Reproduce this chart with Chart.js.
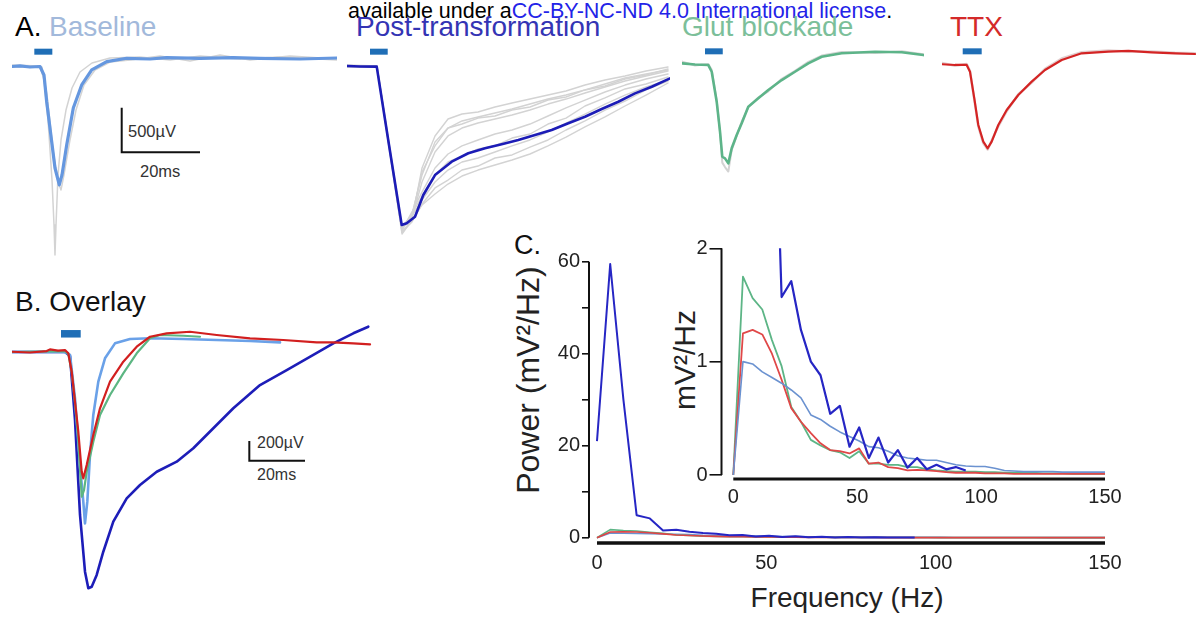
<!DOCTYPE html>
<html>
<head>
<meta charset="utf-8">
<script src="https://cdn.jsdelivr.net/npm/chart.js@4.4.1/dist/chart.umd.min.js"></script>
<style>
  body { margin: 0; width: 1196px; height: 617px; position: relative; overflow: hidden; background: #fff;
         font-family: "Liberation Sans", Arial, sans-serif; }
  canvas { position: absolute; }
  .lbl { position: absolute; white-space: nowrap; line-height: 1; }
  .rot { transform: translate(-50%, -50%) rotate(-90deg); }
</style>
</head>
<body>
<div class="lbl" style="left:348px;top:1px;font-size:21.5px;color:#000">available under a<span style="color:#2323e8">CC-BY-NC-ND 4.0 International license</span>.</div>

<div class="lbl" style="left:15px;top:13px;font-size:28px;color:#000">A.</div>
<div class="lbl" style="left:49px;top:13px;font-size:28px;color:#a2b9db">Baseline</div>
<div class="lbl" style="left:356px;top:13px;font-size:28px;color:#3434b4">Post-transformation</div>
<div class="lbl" style="left:682px;top:13px;font-size:28px;color:#7cbf9a">Glut blockade</div>
<div class="lbl" style="left:950px;top:13px;font-size:28px;color:#d42a2a">TTX</div>
<div class="lbl" style="left:128px;top:123px;font-size:16.5px;color:#333">500µV</div>
<div class="lbl" style="left:140px;top:163px;font-size:16.5px;color:#333">20ms</div>

<div class="lbl" style="left:15px;top:288px;font-size:28px;color:#111">B. Overlay</div>
<div class="lbl" style="left:257px;top:435px;font-size:16px;color:#333">200µV</div>
<div class="lbl" style="left:257px;top:467px;font-size:16px;color:#333">20ms</div>

<div class="lbl" style="left:514px;top:232px;font-size:27px;color:#111">C.</div>
<div class="lbl rot" style="left:528px;top:380px;font-size:32px;color:#222">Power (mV²/Hz)</div>
<div class="lbl rot" style="left:685px;top:360px;font-size:30px;color:#222">mV²/Hz</div>
<div class="lbl" style="left:847px;top:584px;font-size:28px;color:#222;transform:translateX(-50%)">Frequency (Hz)</div>

<script>
  // ---- A. single-trace recordings (ms, µV) ----
  var baseT = [0, 2.04, 4.60, 7.15, 8.17, 8.86, 10.14, 10.98, 12.08, 12.77, 13.97, 15.66, 17.80, 20.36, 24.19, 29.30, 35.25, 39.51, 48.02, 56.45, 63.35, 73.56, 83.01];
  var baseV = [0, 6, -6, 0, -95, -395, -843, -1138, -1328, -1216, -880, -465, -207, -39, 54, 92, 84, 99, 90, 99, 90, 84, 95];
  var baseGrayDeepT = [0, 7.15, 8.17, 9.20, 10.22, 10.73, 10.98, 11.24, 11.75, 12.52, 13.79, 15.33, 17.37, 20.43, 25.03, 32.69, 40.36, 48.02, 58.24, 68.45, 83.01];
  var baseGrayDeepV = [17, 6, -151, -600, -1272, -1777, -2113, -1777, -1216, -824, -488, -241, -62, 39, 95, 106, 73, 118, 84, 106, 73];
  var baseGrayLateT = [0, 7.66, 8.94, 10.47, 11.75, 12.52, 13.28, 14.81, 16.35, 18.39, 21.20, 25.03, 30.14, 37.80, 45.47, 53.13, 60.79, 71.01, 83.01];
  var baseGrayLateV = [-6, -6, -319, -936, -1295, -1384, -1216, -824, -488, -207, -39, 50, 73, 118, 62, 129, 73, 118, 84];

  var postT = [0.18, 3.32, 7.59, 10.73, 13.97, 15.25, 17.37, 19.49, 22.48, 26.74, 30.98, 35.25, 39.51, 43.75, 48.02, 52.28, 56.53, 60.79, 65.06, 69.30, 73.56, 77.83, 82.50];
  var postV = [3, -2, -4, -882, -1779, -1760, -1686, -1443, -1219, -1069, -975, -919, -874, -826, -770, -714, -639, -565, -479, -397, -303, -229, -135];
  var postGrayT = [0, 7.66, 14.05, 16.60, 19.16, 22.48, 25.80, 29.37, 33.46, 37.80, 42.15, 46.74, 51.34, 55.94, 60.79, 65.90, 71.01, 76.37, 81.99];
  var postGray1 = [15, 3, -1857, -1723, -1140, -781, -591, -535, -512, -456, -411, -367, -322, -277, -210, -154, -109, -53, -8];
  var postGray2 = [-8, -8, -1835, -1656, -1219, -849, -692, -613, -568, -524, -479, -423, -367, -322, -265, -198, -131, -86, -41];
  var postGray3 = [3, -8, -1812, -1700, -1297, -961, -781, -692, -636, -591, -546, -490, -423, -367, -299, -232, -165, -109, -53];
  var postGray4 = [3, 3, -1790, -1678, -1499, -1297, -1163, -1073, -1028, -961, -893, -826, -736, -636, -535, -423, -322, -232, -154];
  var postGray5 = [-8, -8, -1880, -1723, -1555, -1432, -1320, -1230, -1163, -1106, -1050, -983, -893, -793, -680, -568, -445, -322, -187];
  var postGray6 = [3, -8, -1835, -1633, -1410, -1140, -983, -893, -826, -759, -714, -647, -557, -467, -378, -288, -210, -142, -86];
  var postGray7 = [3, 3, -1824, -1678, -1185, -893, -692, -647, -580, -557, -490, -456, -378, -344, -265, -221, -142, -97, -30];
  var postGray8 = [-8, 3, -1857, -1745, -1544, -1364, -1275, -1163, -1118, -1028, -994, -905, -826, -714, -613, -490, -389, -265, -165];
  var postGray9 = [3, -8, -1812, -1656, -1454, -1219, -1073, -1006, -927, -893, -804, -759, -647, -580, -445, -355, -254, -198, -120];

  var glutT = [0.08, 3.32, 6.72, 7.59, 8.86, 9.71, 10.29, 10.98, 11.83, 12.69, 13.97, 15.25, 16.93, 19.49, 22.04, 25.47, 28.86, 32.26, 35.68, 40.79, 49.30, 56.12, 61.63];
  var glutV = [13, 0, -6, -81, -417, -753, -1034, -1052, -1108, -939, -790, -659, -473, -379, -286, -174, -81, 13, 87, 126, 143, 137, 106];
  var glutGrayV = [33, -10, 5, -60, -400, -760, -1100, -1150, -1200, -960, -800, -640, -480, -370, -300, -160, -70, 30, 100, 140, 130, 150, 115];

  var ttxT = [0, 3.32, 6.31, 7.15, 8.25, 9.27, 10.55, 11.67, 12.69, 14.38, 16.53, 19.49, 22.91, 26.31, 30.58, 35.68, 42.48, 47.59, 53.56, 59.51, 64.62];
  var ttxV = [6, -2, -2, -77, -376, -675, -862, -936, -862, -675, -507, -339, -189, -58, 54, 129, 147, 155, 140, 129, 121];
  var ttxGrayV = [20, -10, 8, -70, -390, -690, -880, -950, -850, -690, -520, -330, -200, -45, 70, 140, 160, 150, 150, 135, 130];

  // stimulus bars [start ms, end ms, level µV] and scale bar corners
  var stimBase = [5.7, 10.3, 166];
  var stimPost = [5.87, 10.40, 164];
  var stimGlut = [5.87, 10.41, 148];
  var stimTtx = [5.29, 10.14, 151];
  var scaleA = [[28.02, -462], [28.02, -962], [48.02, -962]];   // 500 µV / 20 ms

  // ---- B. overlay of averages ----
  var ovRedT = [0, 6.46, 12.46, 13.64, 16.52, 19.03, 20.22, 21.44, 22.62, 23.81, 25.03, 25.60, 26.82, 29.19, 31.60, 35.19, 39.96, 44.78, 49.55, 55.55, 63.91, 73.50, 85.46, 97.41, 109.41, 115.26, 122.55, 128.55];
  var ovRedV = [3, -5, 10, 27, 15, 20, -13, -200, -504, -809, -1215, -1282, -1147, -842, -571, -301, -98, 54, 155, 190, 206, 173, 139, 122, 98, 98, 88, 78];
  var ovGreenT = [0, 19.03, 20.22, 21.44, 22.62, 23.81, 25.03, 25.85, 26.82, 29.19, 31.60, 35.19, 39.96, 44.78, 49.55, 53.14, 61.51, 67.50];
  var ovGreenV = [0, 10, -20, -203, -518, -893, -1469, -1401, -1215, -910, -639, -436, -216, -13, 139, 173, 165, 155];
  var ovLightT = [0, 19.03, 20.83, 22.62, 24.42, 25.60, 26.21, 27.04, 28.01, 29.19, 30.99, 33.39, 36.98, 42.37, 49.55, 61.51, 73.50, 85.46, 96.23];
  var ovLightV = [0, 0, -30, -467, -1147, -1519, -1739, -1519, -1045, -639, -301, -64, 88, 132, 139, 132, 122, 112, 98];
  var ovDarkT = [0, 19.03, 20.83, 22.62, 24.42, 26.21, 27.40, 28.62, 30.41, 32.78, 36.37, 41.18, 45.96, 51.96, 59.14, 65.10, 72.28, 79.46, 89.05, 98.64, 108.19, 115.37, 122.55, 127.93];
  var ovDarkV = [0, 0, -41, -690, -1654, -2230, -2398, -2382, -2263, -2027, -1722, -1485, -1350, -1215, -1113, -977, -774, -571, -335, -183, -30, 88, 190, 257];
  var stimOverlay = [17.59, 24.67, 185];
  var scaleB = [[85.21, -903], [85.21, -1103], [105.21, -1103]];  // 200 µV / 20 ms

  // ---- C. power spectra (Hz, mV²/Hz) ----
  var freqHz = [0, 3.9, 7.8, 11.7, 15.6, 19.5, 23.4, 27.3, 31.3, 35.2, 39.1, 43.0, 46.9, 50.8, 54.7, 58.6, 62.5, 66.4, 70.3, 74.2,
                78.1, 82.0, 85.9, 89.8, 93.8, 97.7, 101.6, 105.5, 109.4, 113.3, 117.2, 121.1, 125.0, 128.9, 132.8, 136.7, 140.6, 144.5, 148.4, 152.3];
  var psdPost = [21, 59.5, 30, 4.9, 4.2, 1.57, 1.71, 1.28, 1.0, 0.88, 0.54, 0.61, 0.25, 0.42, 0.15, 0.33, 0.11, 0.22, 0.065, 0.15,
                 0.05, 0.09, 0.05, 0.07, 0.04];
  var psdGlut = [0, 1.75, 1.56, 1.46, 1.19, 0.96, 0.60, 0.47, 0.31, 0.26, 0.22, 0.20, 0.15, 0.21, 0.10, 0.10, 0.09, 0.09, 0.07, 0.07,
                 0.05, 0.04, 0.035, 0.03, 0.03, 0.03, 0.025, 0.025, 0.02, 0.02, 0.02, 0.02, 0.015, 0.015, 0.015, 0.01, 0.01, 0.01, 0.01, 0.01];
  var psdTtx = [0, 1.25, 1.28, 1.24, 1.07, 0.84, 0.59, 0.47, 0.37, 0.28, 0.22, 0.21, 0.19, 0.235, 0.10, 0.11, 0.07, 0.06, 0.04, 0.045,
                0.04, 0.035, 0.025, 0.02, 0.02, 0.02, 0.015, 0.015, 0.015, 0.01, 0.01, 0.01, 0.01, 0.01, 0.01, 0.01, 0.01, 0.01, 0.01, 0.01];
  var psdBase = [0, 1.0, 0.98, 0.91, 0.86, 0.81, 0.75, 0.68, 0.53, 0.49, 0.43, 0.38, 0.34, 0.30, 0.25, 0.24, 0.21, 0.17, 0.15, 0.14,
                 0.13, 0.13, 0.11, 0.09, 0.08, 0.075, 0.075, 0.06, 0.04, 0.035, 0.03, 0.03, 0.03, 0.03, 0.025, 0.025, 0.025, 0.025, 0.025, 0.025];
  var freqTicks = [0, 50, 100, 150];
  var powerTicks = [0, 10, 20, 30, 40, 50, 60];
  var powerLabels = ['0', '', '20', '', '40', '', '60'];
  var insetTicks = [0, 1, 2];
  var insetLabels = ['0', '1', '2'];

  // colours
  var cBase = '#6597df', cPost = '#1c1cb6', cGlut = '#5db489', cTtx = '#d42424', cGray = '#d3d3d3', cStim = '#1f6eb6';

  function xy(ts, vs) {
    return vs.map(function (v, i) { return { x: ts[i], y: v }; });
  }
  function line(data, color, width) {
    return { data: data, borderColor: color, borderWidth: width, pointRadius: 0, fill: false };
  }
  function stim(s, width) {
    var d = line([{ x: s[0], y: s[2] }, { x: s[1], y: s[2] }], cStim, width);
    d.borderCapStyle = 'butt';
    return d;
  }
  function scaleBar(pts) {
    var d = line(pts.map(function (p) { return { x: p[0], y: p[1] }; }), '#111', 2);
    d.borderCapStyle = 'butt';
    d.borderJoinStyle = 'miter';
    return d;
  }
  function makeCanvas(left, top, w, h) {
    var c = document.createElement('canvas');
    c.width = w; c.height = h;
    c.style.left = left + 'px'; c.style.top = top + 'px';
    document.body.appendChild(c);
    return c;
  }

  // charts with hidden axes, the canvas is the plot area
  function traceChart(left, top, w, h, xMax, yMin, yMax, datasets) {
    return new Chart(makeCanvas(left, top, w, h), {
      type: 'line',
      data: { datasets: datasets },
      options: {
        animation: false, responsive: false, events: [],
        elements: { line: { tension: 0, borderJoinStyle: 'round', borderCapStyle: 'round' } },
        plugins: { legend: { display: false }, tooltip: { enabled: false } },
        scales: {
          x: { type: 'linear', display: false, min: 0, max: xMax },
          y: { type: 'linear', display: false, min: yMin, max: yMax }
        }
      }
    });
  }

  // first dataset is drawn on top
  traceChart(12, 40, 325, 222, 83.01, -2192, 297, [
    line(xy(baseT, baseV), cBase, 3.2),
    line(xy(baseGrayDeepT, baseGrayDeepV), cGray, 1.5),
    line(xy(baseGrayLateT, baseGrayLateV), cGray, 1.5),
    stim(stimBase, 6),
    scaleBar(scaleA)
  ]);

  traceChart(347, 40, 323, 222, 82.5, -2194, 295, [
    line(xy(postT, postV), cPost, 2.6),
    line(xy(postGrayT, postGray1), cGray, 1.4),
    line(xy(postGrayT, postGray2), cGray, 1.4),
    line(xy(postGrayT, postGray3), cGray, 1.4),
    line(xy(postGrayT, postGray4), cGray, 1.4),
    line(xy(postGrayT, postGray5), cGray, 1.4),
    line(xy(postGrayT, postGray6), cGray, 1.4),
    line(xy(postGrayT, postGray7), cGray, 1.4),
    line(xy(postGrayT, postGray8), cGray, 1.4),
    line(xy(postGrayT, postGray9), cGray, 1.4),
    stim(stimPost, 6)
  ]);

  traceChart(682, 40, 242, 222, 61.81, -2214, 275, [
    line(xy(glutT, glutV), cGlut, 2.6),
    line(xy(glutT, glutGrayV), cGray, 2),
    stim(stimGlut, 6)
  ]);

  traceChart(942, 40, 254, 222, 64.88, -2211, 278, [
    line(xy(ttxT, ttxV), cTtx, 2.2),
    line(xy(ttxT, ttxGrayV), '#e2d0d0', 2.5),
    stim(stimTtx, 6)
  ]);

  traceChart(12, 320, 360, 280, 129.26, -2517, 325, [
    line(xy(ovRedT, ovRedV), '#d21f1f', 2.2),
    line(xy(ovGreenT, ovGreenV), '#5cb682', 2.2),
    line(xy(ovLightT, ovLightV), '#6aa1e8', 2.6),
    line(xy(ovDarkT, ovDarkV), '#1d1db8', 2.6),
    stim(stimOverlay, 7.5),
    scaleBar(scaleB)
  ]);

  // R-style detached axes: y line ends at 0, x line starts at 0 Hz
  var axisLines = {
    id: 'axisLines',
    afterDraw: function (chart, args, o) {
      var ctx = chart.ctx, x = chart.scales.x, y = chart.scales.y, a = chart.chartArea;
      ctx.save();
      ctx.strokeStyle = '#111';
      ctx.lineWidth = o.yWidth;
      ctx.beginPath();
      ctx.moveTo(a.left, y.getPixelForValue(o.yTop));
      ctx.lineTo(a.left, y.getPixelForValue(0));
      ctx.stroke();
      ctx.lineWidth = o.xWidth;
      ctx.beginPath();
      ctx.moveTo(x.getPixelForValue(0), a.bottom);
      ctx.lineTo(x.getPixelForValue(150), a.bottom);
      ctx.stroke();
      ctx.restore();
    }
  };

  function psdChart(box, ax, datasets) {
    return new Chart(makeCanvas(box.left, box.top, box.w, box.h), {
      type: 'line',
      data: { datasets: datasets },
      options: {
        animation: false, responsive: false, events: [],
        layout: { padding: { top: box.padTop, right: box.padRight, left: 0, bottom: 0 } },
        elements: { line: { tension: 0, borderJoinStyle: 'round' } },
        plugins: { legend: { display: false }, tooltip: { enabled: false },
                   axisLines: { yTop: ax.yMax, yWidth: 2, xWidth: ax.xWidth } },
        scales: {
          x: {
            type: 'linear', min: ax.xMin, max: 150,
            afterBuildTicks: function (s) { s.ticks = freqTicks.map(function (v) { return { value: v }; }); },
            afterFit: function (s) { s.height = box.xH; },
            ticks: { autoSkip: false, maxRotation: 0, padding: ax.xPad, color: '#222',
                     font: { family: 'Liberation Sans', size: 20 } },
            grid: { display: false, drawTicks: false }, border: { display: false }
          },
          y: {
            type: 'linear', min: ax.yMin, max: ax.yMax,
            afterBuildTicks: function (s) { s.ticks = ax.ticks.map(function (v) { return { value: v }; }); },
            afterFit: function (s) { s.width = box.yW; },
            ticks: { padding: ax.yPad, color: '#222', font: { family: 'Liberation Sans', size: 20 },
                     callback: function (v, i) { return ax.labels[i]; } },
            grid: { drawOnChartArea: false, drawTicks: true, tickLength: ax.tickLen, color: '#111', lineWidth: 1.6 },
            border: { display: false }
          }
        }
      },
      plugins: [axisLines]
    });
  }

  psdChart({ left: 500, top: 230, w: 696, h: 387, padTop: 31.7, padRight: 91, yW: 89, xH: 74 },
    { xMin: -2.36, yMin: -1.15, yMax: 60, ticks: powerTicks, labels: powerLabels, tickLen: 7, yPad: 2, xPad: 8, xWidth: 3.5 },
    [
      line(xy(freqHz, psdPost), '#2626c4', 2),
      line(xy(freqHz, psdTtx), '#e04444', 1.6),
      line(xy(freqHz, psdGlut), '#5db586', 1.6),
      line(xy(freqHz, psdBase), '#6b92d0', 1.6)
    ]);

  psdChart({ left: 640, top: 220, w: 556, h: 300, padTop: 28.3, padRight: 91, yW: 81.5, xH: 41 },
    { xMin: -4.76, yMin: -0.0353, yMax: 2, ticks: insetTicks, labels: insetLabels, tickLen: 12, yPad: 2, xPad: 6, xWidth: 3 },
    [
      line(xy(freqHz, psdPost), '#2626c4', 2.2),
      line(xy(freqHz, psdBase), '#6b92d0', 1.6),
      line(xy(freqHz, psdTtx), '#e04848', 1.8),
      line(xy(freqHz, psdGlut), '#5db586', 1.8)
    ]);
</script>
</body>
</html>
